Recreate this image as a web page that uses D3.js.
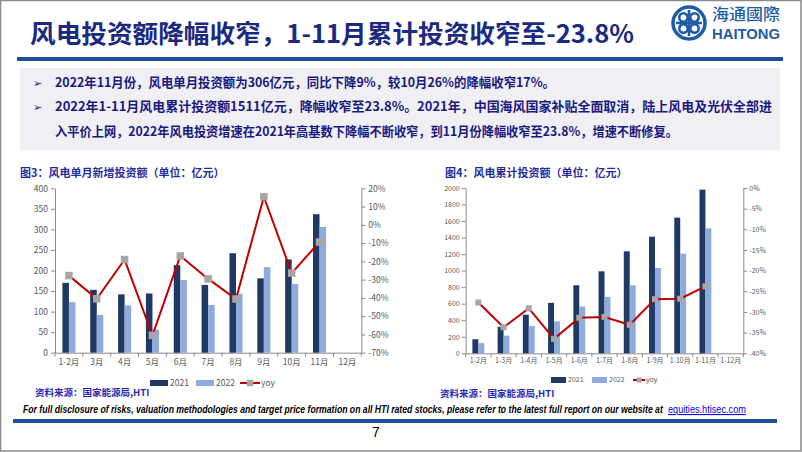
<!DOCTYPE html>
<html><head><meta charset="utf-8">
<script src="https://cdn.jsdelivr.net/npm/d3@7"></script>
<style>body{margin:0;background:#fff} svg{display:block}</style>
</head><body>
<script>
// ---------- data ----------
const months1 = ["1-2月","3月","4月","5月","6月","7月","8月","9月","10月","11月","12月"];
const inv2021 = [170,153,142,144,213,165,242,181,227,337,null];
const inv2022 = [123,92,115,56,177,116,143,208,167,306,null];
const yoyMonthly = [-27.8,-40.5,-19,-60.5,-17,-29.6,-40.6,15.4,-26.4,-9.4,null];
const leftTicks1 = [0,50,100,150,200,250,300,350,400];
const rightTicks1 = [-70,-60,-50,-40,-30,-20,-10,0,10,20];

const months2 = ["1-2月","1-3月","1-4月","1-5月","1-6月","1-7月","1-8月","1-9月","1-10月","1-11月","1-12月"];
const cum2021 = [170,320,467,610,823,992,1234,1411,1641,1980,null];
const cum2022 = [123,214,331,387,565,681,823,1032,1205,1511,null];
const yoyCum = [-27.7,-33.7,-29.1,-36.5,-31.4,-31.2,-33.1,-26.9,-26.8,-23.8,null];
const leftTicks2 = [0,200,400,600,800,1000,1200,1400,1600,1800,2000];
const rightTicks2 = [-40,-35,-30,-25,-20,-15,-10,-5,0];

const seriesNames = ["2021","2022","yoy"];

const titleText = "风电投资额降幅收窄，1-11月累计投资收窄至-23.8%";
const bullets = [
  "2022年11月份，风电单月投资额为306亿元，同比下降9%，较10月26%的降幅收窄17%。",
  "2022年1-11月风电累计投资额1511亿元，降幅收窄至23.8%。2021年，中国海风国家补贴全面取消，陆上风电及光伏全部进",
  "入平价上网，2022年风电投资增速在2021年高基数下降幅不断收窄，到11月份降幅收窄至23.8%，增速不断修复。"
];
const chartTitles = ["图3：风电单月新增投资额（单位：亿元）","图4：风电累计投资额（单位：亿元）"];
const sourceText = "资料来源：国家能源局,HTI";
const footerText = "For full disclosure of risks, valuation methodologies and target price formation on all HTI rated stocks, please refer to the latest full report on our website at";
const footerLink = "equities.htisec.com";

// ---------- styles ----------
const C_DARK = "#203864", C_LIGHT = "#8faadc", C_LINE = "#c00000", C_MARK = "#a6a6a6";
const CJK = "'Noto Sans CJK SC','Noto Sans',sans-serif";
const LAT = "'Liberation Sans','Noto Sans',sans-serif";

const W = 802, H = 452;
const svg = d3.select("body").append("svg").attr("width", W).attr("height", H);

svg.append("rect").attr("x",0.5).attr("y",0.5).attr("width",W-1.5).attr("height",H-1.5)
  .attr("fill","#fff").attr("stroke","#8a8a8a").attr("stroke-width",1.5);

// horizontally fitted text (scaled so that its real box matches the target width)
function fitText(sel, x, y, width){
  sel.attr("x",0).attr("y",0);
  const w = sel.node().getComputedTextLength();
  sel.attr("transform",`translate(${x},${y}) scale(${width/w},1)`);
  return sel;
}

// title
svg.append("text").attr("x",30).attr("y",43).attr("font-family",CJK).attr("font-weight",700)
  .attr("font-size",25).attr("fill","#1b2a80").attr("textLength",604).attr("lengthAdjust","spacingAndGlyphs")
  .text(titleText);

// logo
const lg = svg.append("g").attr("transform","translate(689,23)");
lg.append("circle").attr("r",16).attr("fill","none").attr("stroke","#1f5ca8").attr("stroke-width",3.5);
[[-5.5,-5.5],[5.5,-5.5],[-5.5,5.5],[5.5,5.5]].forEach(([dx,dy])=>{
  lg.append("circle").attr("cx",dx).attr("cy",dy).attr("r",4.2).attr("fill","none").attr("stroke","#1f5ca8").attr("stroke-width",2.6);
});
lg.append("line").attr("x1",-13).attr("x2",13).attr("y1",0).attr("y2",0).attr("stroke","#1f5ca8").attr("stroke-width",2.6);
lg.append("line").attr("y1",-13).attr("y2",13).attr("x1",0).attr("x2",0).attr("stroke","#1f5ca8").attr("stroke-width",2.6);
svg.append("text").attr("x",712).attr("y",20).attr("font-family",CJK).attr("font-size",15.5).attr("font-weight",500)
  .attr("fill","#1f5ca8").attr("textLength",68).attr("lengthAdjust","spacingAndGlyphs").text("海通國際");
svg.append("text").attr("x",712).attr("y",38.5).attr("font-family",LAT).attr("font-size",14.5).attr("font-weight",700)
  .attr("fill","#1f5ca8").attr("textLength",68).attr("lengthAdjust","spacingAndGlyphs").text("HAITONG");

// blue rule under title
svg.append("rect").attr("x",17).attr("y",57).attr("width",766).attr("height",4).attr("fill","#1f4e9c");

// text box
svg.append("rect").attr("x",20).attr("y",68).attr("width",760).attr("height",82).attr("fill","#efeff4");
const bodyY = [87,111,136], bodyLen = [500,717,623];
bullets.forEach((t,i)=>{
  if(i<2) svg.append("text").attr("x",33).attr("y",bodyY[i]).attr("font-family",CJK).attr("font-size",11)
    .attr("fill","#1a1a80").text("➢");
  svg.append("text").attr("x",55).attr("y",bodyY[i]).attr("font-family",CJK).attr("font-weight",700)
    .attr("font-size",13).attr("fill","#1a1a80").attr("textLength",bodyLen[i]).attr("lengthAdjust","spacingAndGlyphs").text(t);
});

// ---------- chart function ----------
function drawChart(o){
  const g = svg.append("g");
  g.append("text").attr("x",o.titleX).attr("y",177).attr("font-family",CJK).attr("font-weight",700)
    .attr("font-size",11).attr("fill","#1f2d9c").text(o.title);

  const x = d3.scaleBand().domain(o.cats).range([o.x0,o.x1]).paddingInner(0).paddingOuter(0);
  const yL = d3.scaleLinear().domain([o.leftTicks[0], o.leftTicks[o.leftTicks.length-1]]).range([o.y1,o.y0]);
  const yR = d3.scaleLinear().domain([o.rightTicks[0], o.rightTicks[o.rightTicks.length-1]]).range([o.y1,o.y0]);
  const bw = x.bandwidth()*0.235;

  // axes
  const axL = g.append("g").attr("transform",`translate(${o.x0},0)`)
    .call(d3.axisLeft(yL).tickValues(o.leftTicks).tickFormat(d3.format("d")).tickSize(4).tickPadding(o.pad).tickSizeOuter(0));
  const axR = g.append("g").attr("transform",`translate(${o.x1},0)`)
    .call(d3.axisRight(yR).tickValues(o.rightTicks).tickFormat(d=>d+"%").tickSize(4).tickPadding(o.pad).tickSizeOuter(0));
  const axB = g.append("g").attr("transform",`translate(0,${o.y1})`)
    .call(d3.axisBottom(x).tickSize(0).tickPadding(o.xPad).tickSizeOuter(0));
  [axL,axR,axB].forEach(a=>{
    a.selectAll("path.domain").attr("stroke","#8c8c8c");
    a.selectAll(".tick line").attr("stroke","#8c8c8c");
    a.selectAll("text").attr("fill","#595959").attr("font-family",CJK).attr("font-size",o.fs);
  });
  // category boundary ticks
  g.append("g").selectAll("line").data(d3.range(o.cats.length+1)).join("line")
    .attr("x1",i=>o.x0+i*x.bandwidth()).attr("x2",i=>o.x0+i*x.bandwidth())
    .attr("y1",o.y1).attr("y2",o.y1+4).attr("stroke","#8c8c8c");

  // bars
  const idx = d3.range(o.cats.length);
  g.append("g").selectAll("rect").data(idx.filter(i=>o.a[i]!=null)).join("rect")
    .attr("x",i=>x(o.cats[i])+x.bandwidth()/2-bw).attr("width",bw)
    .attr("y",i=>yL(o.a[i])).attr("height",i=>o.y1-yL(o.a[i])).attr("fill",C_DARK);
  g.append("g").selectAll("rect").data(idx.filter(i=>o.b[i]!=null)).join("rect")
    .attr("x",i=>x(o.cats[i])+x.bandwidth()/2).attr("width",bw)
    .attr("y",i=>yL(o.b[i])).attr("height",i=>o.y1-yL(o.b[i])).attr("fill",C_LIGHT);

  // yoy line
  const line = d3.line().defined(i=>o.yoy[i]!=null)
    .x(i=>x(o.cats[i])+x.bandwidth()/2).y(i=>yR(o.yoy[i]));
  g.append("path").attr("d",line(idx)).attr("fill","none").attr("stroke",C_LINE).attr("stroke-width",2);
  g.append("g").selectAll("rect").data(idx.filter(i=>o.yoy[i]!=null)).join("rect")
    .attr("x",i=>x(o.cats[i])+x.bandwidth()/2-o.ms/2).attr("y",i=>yR(o.yoy[i])-o.ms/2)
    .attr("width",o.ms).attr("height",o.ms).attr("fill",C_MARK);

  // legend
  const L = o.leg, ly = L.y;
  g.append("rect").attr("x",L.x[0]).attr("y",ly-3).attr("width",L.sw).attr("height",6).attr("fill",C_DARK);
  g.append("rect").attr("x",L.x[1]).attr("y",ly-3).attr("width",L.sw).attr("height",6).attr("fill",C_LIGHT);
  g.append("line").attr("x1",L.x[2]).attr("x2",L.x[2]+L.lw).attr("y1",ly).attr("y2",ly).attr("stroke",C_LINE).attr("stroke-width",2);
  g.append("rect").attr("x",L.x[2]+L.lw/2-o.ms/2+0.5).attr("y",ly-o.ms/2+0.5).attr("width",o.ms-1).attr("height",o.ms-1).attr("fill",C_MARK);
  [L.x[0]+L.sw+2, L.x[1]+L.sw+2, L.x[2]+L.lw+1].forEach((tx,k)=>{
    g.append("text").attr("x",tx).attr("y",ly).attr("dy","0.35em").attr("font-family",CJK).attr("font-size",o.lfs)
      .attr("fill","#595959").text(seriesNames[k]);
  });

  // source
  g.append("text").attr("x",o.srcX).attr("y",o.srcY).attr("dy","0.35em").attr("font-family",CJK).attr("font-weight",700)
    .attr("font-size",9.5).attr("fill","#2a2ab4").text(sourceText);
}

drawChart({title:chartTitles[0], titleX:20, cats:months1, a:inv2021, b:inv2022, yoy:yoyMonthly,
  leftTicks:leftTicks1, rightTicks:rightTicks1, x0:55, x1:361.3, y0:188.3, y1:352.7,
  fs:8.5, pad:3, xPad:6, ms:7.5, lfs:8.5,
  leg:{y:383, x:[150,196,240], sw:18, lw:20}, srcX:35, srcY:393});

drawChart({title:chartTitles[1], titleX:445, cats:months2, a:cum2021, b:cum2022, yoy:yoyCum,
  leftTicks:leftTicks2, rightTicks:rightTicks2, x0:465.7, x1:743.3, y0:188, y1:353.3,
  fs:7, pad:2, xPad:5, ms:6, lfs:7,
  leg:{y:380, x:[551,592,633], sw:15, lw:12}, srcX:440, srcY:394});

// footer
fitText(svg.append("text").attr("font-family",LAT).attr("font-style","italic").attr("font-weight",700)
  .attr("font-size",10.5).attr("fill","#000").text(footerText), 23, 413, 641);
fitText(svg.append("text").attr("font-family",LAT).attr("font-size",10.5)
  .attr("fill","#0000ee").attr("text-decoration","underline").text(footerLink), 668, 413, 78);
svg.append("rect").attr("x",13).attr("y",419).attr("width",764).attr("height",4).attr("fill","#1f4e9c");
svg.append("text").attr("x",372).attr("y",437).attr("font-family",LAT).attr("font-size",14).attr("fill","#000").text("7");
</script>
</body></html>
